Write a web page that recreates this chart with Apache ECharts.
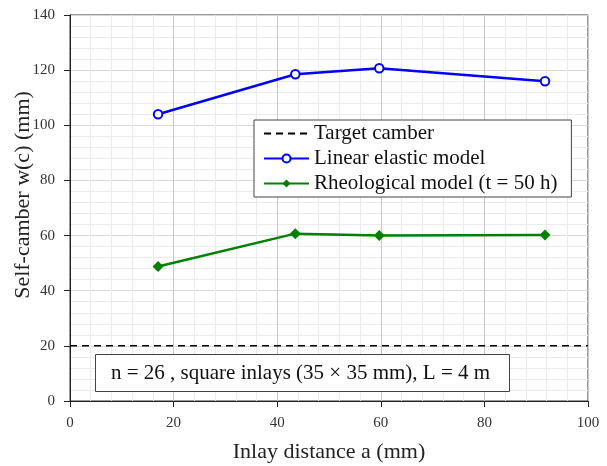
<!DOCTYPE html>
<html>
<head>
<meta charset="utf-8">
<script src="https://cdn.jsdelivr.net/npm/echarts@6/dist/echarts.min.js"></script>
<style>
  html, body { margin: 0; padding: 0; background: #fff; }
  #chart { width: 607px; height: 466px; }
</style>
</head>
<body>
<div id="chart"></div>
<script>
// Inlay distance a (mm) for each computed case
const inlayDistance = [17, 43.5, 59.7, 91.7];
// Self-camber w(c) in mm
const linearElastic = [104, 118.5, 120.7, 116];
const rheological = [48.8, 60.7, 60, 60.2];
// Target camber level (mm), drawn across the full x range
const targetCamber = 20;
const targetRange = [0, 100];

const seriesNames = ['Target camber', 'Linear elastic model', 'Rheological model (t = 50 h)'];
const noteText = 'n = 26 , square inlays (35 × 35 mm), L = 4 m';

const FONT = '"Liberation Serif", "DejaVu Serif", serif';

const pairs = (xs, ys) => xs.map((x, i) => [x, ys[i]]);

const chart = echarts.init(document.getElementById('chart'), null, { renderer: 'canvas' });

chart.setOption({
  animation: false,
  backgroundColor: '#fff',
  textStyle: { fontFamily: FONT },
  grid: {
    left: 70, right: 19, top: 15, bottom: 65,
    containLabel: false, outerBoundsMode: 'none',
    show: true, borderColor: '#333', borderWidth: 1
  },
  xAxis: {
    type: 'value', min: 0, max: 100, interval: 20,
    name: 'Inlay distance a (mm)', nameLocation: 'middle', nameGap: 40,
    nameMoveOverlap: false,
    nameTextStyle: { fontFamily: FONT, fontSize: 22, color: '#222' },
    axisLine: { show: true, lineStyle: { color: '#222', width: 1 } },
    axisTick: { show: true, inside: false, length: 6, lineStyle: { color: '#222' } },
    axisLabel: { fontFamily: FONT, fontSize: 15, color: '#333', margin: 15 },
    splitLine: { show: true, lineStyle: { color: '#c8c8c8', width: 1 } },
    minorTick: { show: false, splitNumber: 5 },
    minorSplitLine: { show: true, lineStyle: { color: '#ebebeb', width: 1 } }
  },
  yAxis: {
    type: 'value', min: 0, max: 140, interval: 20,
    name: 'Self-camber w(c) (mm)', nameLocation: 'middle', nameGap: 36,
    nameMoveOverlap: false,
    nameTextStyle: { fontFamily: FONT, fontSize: 22, color: '#222', padding: [0, 0, 0, 26] },
    axisLine: { show: true, lineStyle: { color: '#222', width: 1 } },
    axisTick: { show: true, inside: false, length: 6, lineStyle: { color: '#222' } },
    axisLabel: { fontFamily: FONT, fontSize: 15, color: '#333', margin: 15 },
    splitLine: { show: true, lineStyle: { color: '#d8d8d8', width: 1 } },
    minorTick: { show: false, splitNumber: 5 },
    minorSplitLine: { show: true, lineStyle: { color: '#ebebeb', width: 1 } }
  },
  legend: {
    orient: 'vertical',
    left: 254, top: 120,
    data: [
      { name: seriesNames[0], itemStyle: { opacity: 0 } },
      { name: seriesNames[1] },
      { name: seriesNames[2] }
    ],
    backgroundColor: '#fff',
    borderColor: '#444', borderWidth: 1,
    padding: [3, 14, 3, 9],
    itemGap: 4,
    itemWidth: 45, itemHeight: 10,
    textStyle: { fontFamily: FONT, fontSize: 21, color: '#111' }
  },
  title: {
    text: noteText,
    left: 95, top: 354,
    backgroundColor: '#fff',
    borderColor: '#444', borderWidth: 1,
    padding: [8, 20, 8, 16],
    textStyle: { fontFamily: FONT, fontSize: 21, fontWeight: 'normal', color: '#111', lineHeight: 22 }
  },
  series: [
    {
      name: seriesNames[0],
      type: 'line',
      data: targetRange.map(x => [x, targetCamber]),
      symbol: 'none',
      lineStyle: { color: '#000', width: 1.5, type: [7, 5] },
      itemStyle: { color: '#000' },
      z: 1
    },
    {
      name: seriesNames[1],
      type: 'line',
      data: pairs(inlayDistance, linearElastic),
      symbol: 'emptyCircle', symbolSize: 8.5,
      lineStyle: { color: '#0000ff', width: 2.5 },
      itemStyle: { color: '#0000ff', borderColor: '#0000ff', borderWidth: 2.8 },
      z: 3
    },
    {
      name: seriesNames[2],
      type: 'line',
      data: pairs(inlayDistance, rheological),
      symbol: 'diamond', symbolSize: 11,
      lineStyle: { color: '#008000', width: 2.5 },
      itemStyle: { color: '#008000' },
      z: 3
    }
  ]
});
</script>
</body>
</html>
